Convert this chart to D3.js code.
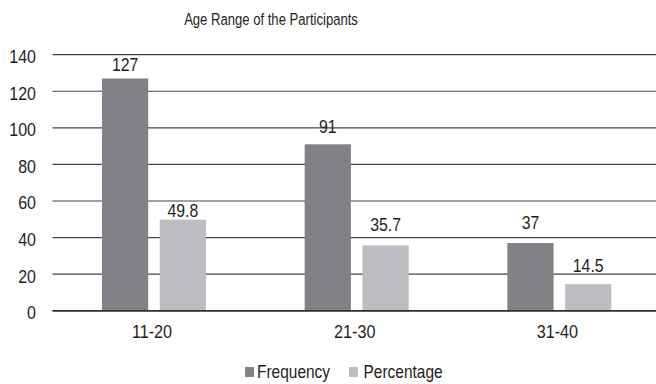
<!DOCTYPE html>
<html><head><meta charset="utf-8">
<script src="https://cdn.jsdelivr.net/npm/d3@7"></script>
<style>body{margin:0;background:#fff}svg{display:block}text{font-family:"Liberation Sans",Arial,sans-serif;fill:#1e1e1e}</style>
</head><body><svg id="c" width="656" height="384"></svg>
<script>
const title = "Age Range of the Participants";
const categories = ["11-20", "21-30", "31-40"];
const seriesNames = ["Frequency", "Percentage"];
const frequency = [127, 91, 37];
const percentage = [49.8, 35.7, 14.5];
const frequencyLabels = ["127", "91", "37"];
const percentageLabels = ["49.8", "35.7", "14.5"];
const yTicks = [0, 20, 40, 60, 80, 100, 120, 140];
const colors = ["#818285", "#bcbdc0"];
// label lift above bar top (layout, px) as placed in the reference
const freqLift = [7.8, 11, 14.5];
const pctLift = [3, 14.4, 12.5];

const svg = d3.select("#c");
const W = 656;
const y = d3.scaleLinear().domain([0, 140]).range([310.7, 54.7]);
const x0 = d3.scaleBand().domain(categories).range([52.7, 660.7]).padding(0);
const x1 = d3.scaleBand().domain(seriesNames).range([49.3, 153.3]).paddingInner(0.2);

function ctext(parent, x, yy, str, size, k, anchor) {
  return parent.append("text")
    .attr("transform", `translate(${x},${yy}) scale(${k},1)`)
    .attr("text-anchor", anchor || "start")
    .style("font-size", size + "px").text(str);
}

ctext(svg, 271, 25, title, 17, 0.77, "middle");

// gridlines
svg.append("g").selectAll("line").data(yTicks).join("line")
  .attr("x1", 52.5).attr("x2", W).attr("y1", d => y(d)).attr("y2", d => y(d))
  .attr("stroke", d => d === 0 ? "#2e2e2e" : "#444").attr("stroke-width", d => d === 0 ? 1.6 : 1.2);

// y axis labels via d3 axis
const yAxis = d3.axisLeft(y).tickValues(yTicks).tickSize(0).tickPadding(0);
const ga = svg.append("g").attr("transform", "translate(52.5,0)").call(yAxis);
ga.select(".domain").remove();
ga.selectAll(".tick text").attr("fill", "#1e1e1e").style("font-size", "18px")
  .style("font-family", '"Liberation Sans",Arial,sans-serif')
  .attr("x", -16.5 / 0.89).attr("dy", "0.44em").attr("transform", "scale(0.89,1)");

const rows = categories.map((c, i) => ({ c, vals: [
  { s: seriesNames[0], v: frequency[i], l: frequencyLabels[i], k: 0, lift: freqLift[i] },
  { s: seriesNames[1], v: percentage[i], l: percentageLabels[i], k: 1, lift: pctLift[i] }] }));

const g = svg.append("g").selectAll("g").data(rows).join("g")
  .attr("transform", d => `translate(${x0(d.c)},0)`);
g.selectAll("rect").data(d => d.vals).join("rect")
  .attr("x", d => x1(d.s)).attr("width", x1.bandwidth())
  .attr("y", d => y(d.v)).attr("height", d => y(0) - y(d.v))
  .attr("fill", d => colors[d.k]);
g.each(function(d) {
  const gg = d3.select(this);
  d.vals.forEach(v => ctext(gg, x1(v.s) + x1.bandwidth() / 2, y(v.v) - v.lift, v.l, 18, 0.88, "middle"));
});

// baseline over bars
svg.append("line").attr("x1", 52.5).attr("x2", W).attr("y1", y(0)).attr("y2", y(0))
  .attr("stroke", "#2e2e2e").attr("stroke-width", 1.6);

// x labels
categories.forEach(c => ctext(svg, x0(c) + x0.bandwidth() / 2 - 2, 337.7, c, 18, 0.9, "middle"));

// legend
const legX = [245, 349];
const legGap = [12, 14.5];
seriesNames.forEach((s, i) => {
  svg.append("rect").attr("x", legX[i]).attr("y", 367).attr("width", 9).attr("height", 10).attr("fill", colors[i]);
  ctext(svg, legX[i] + legGap[i], 378, s, 18, 0.86, "start");
});
</script></body></html>
